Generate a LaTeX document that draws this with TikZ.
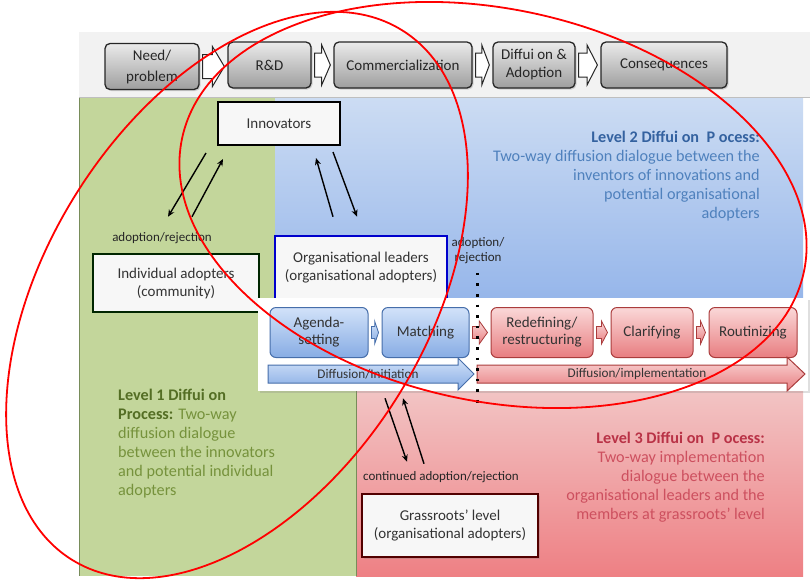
\documentclass[tikz,border=0pt]{standalone}
\usepackage{fontspec}
\setmainfont{Carlito}
\usetikzlibrary{calc,arrows.meta,shadows}
\def\chevron[#1](#2)(#3)(#4:#5){\draw[#1] let \p1=($(#2.east)+(3,0)$), \p2=($(#3.west)+(-3,0)$), \n1={\x1+0.45*(\x2-\x1)} in (\x1,{\y1+#5}) -- ({\n1*1pt},{\y1+#5}) -- ({\n1*1pt},{\y1+#4}) -- (\x2,\y1) -- ({\n1*1pt},{\y1-#4}) -- ({\n1*1pt},{\y1-#5}) -- (\x1,{\y1-#5}) -- cycle;}

\definecolor{panelgreen}{RGB}{195,214,155}
\definecolor{panelline}{RGB}{120,140,90}
\definecolor{bluetop}{RGB}{204,220,243}
\definecolor{bluebot}{RGB}{150,182,234}
\definecolor{pinktop}{RGB}{242,196,196}
\definecolor{pinkbot}{RGB}{238,128,132}
\definecolor{inittop}{RGB}{210,226,249}
\definecolor{initbot}{RGB}{135,172,228}
\definecolor{initedge}{RGB}{70,110,170}
\definecolor{impltop}{RGB}{250,216,216}
\definecolor{implbot}{RGB}{232,125,128}
\definecolor{impledge}{RGB}{170,60,60}
\definecolor{lvlgreen}{RGB}{118,146,60}
\definecolor{lvlgreendk}{RGB}{84,110,36}
\definecolor{lvlblue}{RGB}{79,129,189}
\definecolor{lvlbluedk}{RGB}{52,98,160}
\definecolor{lvlred}{RGB}{205,80,95}
\definecolor{lvlreddk}{RGB}{185,50,70}

\tikzset{
	stagebox/.style={draw=black!85, line width=1.3pt, rounded corners=5pt, top color=black!8, bottom color=black!38, inner sep=0pt, align=center, text=black!85, font=\fontsize{15}{18}\selectfont, minimum height=46pt, drop shadow={opacity=0.3, shadow xshift=1.5pt, shadow yshift=-1.5pt}},
	stagechev/.style={draw=black!85, line width=1pt, fill=white},
	actorbox/.style={draw=black, line width=2pt, fill=black!3, inner sep=0pt, align=center, text=black!80, font=\fontsize{15}{18}\selectfont},
	initstep/.style={draw=initedge, line width=1pt, rounded corners=6pt, top color=inittop, bottom color=initbot, inner sep=0pt, align=center, text=black!80, font=\fontsize{15}{17}\selectfont, minimum height=50pt},
	implstep/.style={initstep, draw=impledge, top color=impltop, bottom color=implbot},
	initchev/.style={draw=initedge, line width=0.8pt, top color=inittop, bottom color=initbot},
	implchev/.style={draw=impledge, line width=0.8pt, top color=impltop, bottom color=implbot},
	phaselabel/.style={inner sep=0pt, text=black!80, font=\fontsize{13.2}{15}\selectfont},
	smalllabel/.style={inner sep=0pt, align=center, text=black!85, font=\fontsize{13}{15}\selectfont},
	leveltext/.style={inner sep=0pt, font=\fontsize{16.2}{19}\selectfont},
	flow/.style={line width=1.4pt, -{Stealth[length=7pt,width=6pt]}},
	divider/.style={line width=2.6pt, dash pattern=on 2.6pt off 8pt},
	redring/.style={draw=red, line width=1.8pt}
}

\begin{document}
\begin{tikzpicture}[x=1pt,y=-1pt]
	%%%%% START %%%%%
	\useasboundingbox (0,0) rectangle (810,579);
	
	% stage bar
	\fill[black!5] (79,32) rectangle (810,97);
	\draw[black!25] (79,97.5) -- (810,97.5);
	
	% panels
	\fill[panelgreen] (79,98) rectangle (356,576);
	\shade[top color=bluetop, bottom color=bluebot] (275,98) rectangle (803,300);
	\shade[top color=pinktop, bottom color=pinkbot] (356,391) rectangle (803,576);
	\draw[panelline] (79,98) -- (79,576);
	\draw[panelline] (356,391) -- (356,576);
	
	\node[stagebox, minimum width=94pt, font=\fontsize{15}{21}\selectfont] (need) at (152,66.5) {Need/\\problem};
	\node[stagebox, minimum width=83pt] (rnd) at (269.5,65) {R\&D};
	\node[stagebox, minimum width=138pt] (comm) at (403,65) {Commercialization};
	\node[stagebox, minimum width=82pt] (diff) at (534,65) {Diffui on \&\\Adoption};
	\node[stagebox, minimum width=126pt] (cons) at (664,65) {Consequences};
	
	\chevron[stagechev](need)(rnd)(20pt:12pt)
	\chevron[stagechev](rnd)(comm)(20pt:12pt)
	\chevron[stagechev](comm)(diff)(20pt:12pt)
	\chevron[stagechev](diff)(cons)(20pt:12pt)
	
	% adopters
	\node[actorbox, minimum width=122pt, minimum height=43pt] (innov) at (279,123.5) {Innovators};
	\node[actorbox, draw=black!85!green, line width=2.5pt, minimum width=166pt, minimum height=58pt] (indiv) at (176,283) {Individual adopters\\(community)};
	\node[actorbox, draw=blue!80!black, line width=2.5pt, minimum width=172pt, minimum height=64pt] (orgl) at (361,268) {Organisational leaders\\(organisational adopters)};
	
	% process strip
	\fill[white, drop shadow={opacity=0.25, shadow xshift=1.5pt, shadow yshift=-1.5pt}] (258,298) rectangle (808,391);
	
	\node[initstep, minimum width=98pt] (agenda) at (319,332.5) {Agenda-\\setting};
	\node[initstep, minimum width=87pt] (match) at (425.5,332.5) {Matching};
	\node[implstep, minimum width=102pt] (redef) at (542,332.5) {Redefining/\\restructuring};
	\node[implstep, minimum width=82pt] (clar) at (652,332.5) {Clarifying};
	\node[implstep, minimum width=88pt] (rout) at (753,332.5) {Routinizing};
	
	\chevron[initchev](agenda)(match)(11.5pt:6pt)
	\chevron[implchev](match)(redef)(11.5pt:6pt)
	\chevron[implchev](redef)(clar)(11.5pt:6pt)
	\chevron[implchev](clar)(rout)(11.5pt:6pt)
	
	\draw[initchev, line width=1pt] (268,365) -- (458,365) -- (458,358) -- (474,374) -- (458,390) -- (458,383) -- (268,383) -- cycle;
	\draw[implchev, line width=1pt] (477,365) -- (787,365) -- (787,357) -- (805,374) -- (787,391) -- (787,383) -- (477,383) -- cycle;
	\node[phaselabel] (initlbl) at (368,374) {Diffusion/Initiation};
	\node[phaselabel] (impllbl) at (637,374) {Diffusion/implementation};
	
	\node[actorbox, draw=black!60!red!80!black, line width=2.5pt, minimum width=176pt, minimum height=63pt, drop shadow={opacity=0.3, shadow xshift=2pt, shadow yshift=-2pt}] (grass) at (450,525.5) {Grassroots’ level\\(organisational adopters)};
	
	% two-way dialogue
	\draw[flow] ($(innov.south west)+(-11,7)$) -- ($(indiv.north)+(-8,-36)$);
	\draw[flow] ($(indiv.north)+(16,-36)$) -- ($(innov.south west)+(6,13)$);
	\draw[flow] ($(orgl.north)+(-28,-18)$) -- ($(innov.south)+(37,12)$);
	\draw[flow] ($(innov.south)+(54,6)$) -- ($(orgl.north)+(-4,-18)$);
	\draw[flow] ($(orgl.south)+(24,97)$) -- ($(grass.north)+(-43,-31)$);
	\draw[flow] ($(grass.north)+(-26,-29)$) -- ($(orgl.south)+(42,97)$);
	
	\node[smalllabel] (lblindiv) at (162,238) {adoption/rejection};
	\node[smalllabel] (lblorg) at (478,250.5) {adoption/\\rejection};
	\node[smalllabel] (lblgrass) at (441,477) {continued adoption/rejection};
	
	\draw[divider] ($(orgl.north east)+(29,38)$) -- ($(orgl.north east)+(29,172)$);
	
	% level texts
	\node[leveltext, text=lvlgreen, align=left, anchor=north west] (lvlone) at (118,389) {{\bfseries\color{lvlgreendk}Level 1 Diffui on}\\{\bfseries\color{lvlgreendk}Process:} Two-way\\diffusion dialogue\\between the innovators\\and potential individual\\adopters};
	\node[leveltext, text=lvlblue, align=right, anchor=north east] (lvltwo) at (760,131) {{\bfseries\color{lvlbluedk}Level 2 Diffui on\ \ P ocess:}\\Two-way diffusion dialogue between the\\inventors of innovations and\\potential organisational\\adopters};
	\node[leveltext, text=lvlred, align=right, anchor=north east] (lvlthree) at (765,432) {{\bfseries\color{lvlreddk}Level 3 Diffui on\ \ P ocess:}\\Two-way implementation\\dialogue between the\\organisational leaders and the\\members at grassroots’ level};
	
	% red rings
	\draw[redring, rotate around={58:(237,295)}] (237,295) ellipse [x radius=312, y radius=190];
	\draw[redring, rotate around={-12.2:(493,205)}] (493,205) ellipse [x radius=318, y radius=196];
	
	%%%%% END %%%%%
\end{tikzpicture}
\end{document}
